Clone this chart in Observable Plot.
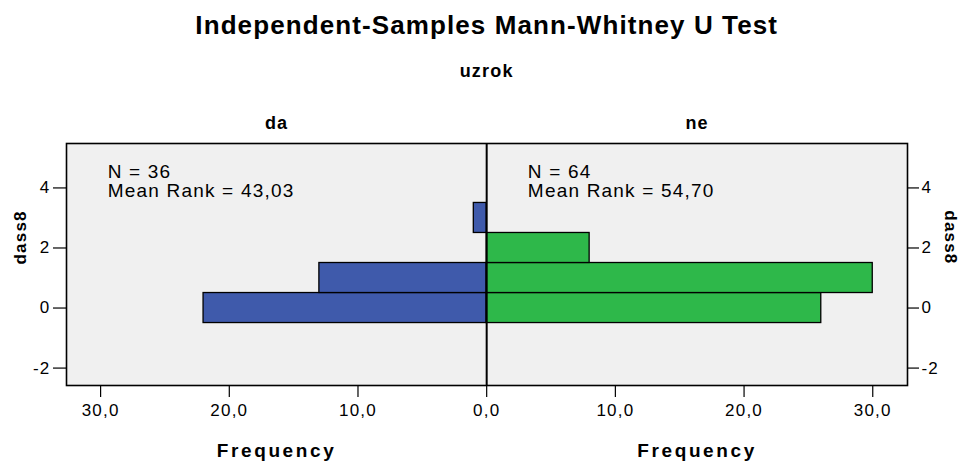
<!DOCTYPE html>
<html><head><meta charset="utf-8">
<script src="https://cdn.jsdelivr.net/npm/d3@7"></script>
<script src="https://cdn.jsdelivr.net/npm/@observablehq/plot@0.6"></script>
<style>
body{margin:0;background:#fff;}
#chart svg{display:block;background:#fff;}
#chart svg text{font-family:Arial,"Liberation Sans",sans-serif;letter-spacing:1.2px;}
</style></head><body><div id="chart"></div>
<script>
const title = "Independent-Samples Mann-Whitney U Test";
const groupVar = "uzrok";
const groups = ["da", "ne"];
const yLabel = "dass8";
const xLabel = "Frequency";
const daValues = [0, 1, 3];
const daCounts = [22, 13, 1];
const neValues = [0, 1, 2];
const neCounts = [26, 30, 8];
const daStats = ["N = 36", "Mean Rank = 43,03"];
const neStats = ["N = 64", "Mean Rank = 54,70"];
const yTicks = [-2, 0, 2, 4];
const xTicks = [-30, -20, -10, 0, 10, 20, 30];
const groupColors = ["#3f5aab", "#2eb84a"];

const xDomain = [-32.65, 32.7];
const yDomain = [-2.58, 5.48];

const bars = [
  ...daValues.map((v, i) => ({group: groups[0], value: v, count: -daCounts[i]})),
  ...neValues.map((v, i) => ({group: groups[1], value: v, count: neCounts[i]}))
];
const fmtX = d => Math.abs(d).toFixed(1).replace(".", ",");
const fmtY = d => String(d);

const plot = Plot.plot({
  width: 960,
  height: 463,
  marginLeft: 66,
  marginRight: 53,
  marginTop: 143,
  marginBottom: 78,
  x: {domain: xDomain},
  y: {domain: yDomain},
  color: {domain: groups, range: groupColors},
  style: {fontFamily: "Arial, 'Liberation Sans', sans-serif", background: "#fff"},
  marks: [
    Plot.frame({fill: "#f0f0f0"}),
    Plot.rect(bars, {
      x1: 0, x2: "count",
      y1: d => d.value - 0.5, y2: d => d.value + 0.5,
      fill: "group", stroke: "black", strokeWidth: 1.3
    }),
    Plot.ruleX([0], {stroke: "black", strokeWidth: 2}),
    Plot.frame({stroke: "black", strokeWidth: 1.6}),
    Plot.axisY(yTicks, {anchor: "left", tickSize: 13, tickPadding: 3, fontSize: 17, tickFormat: fmtY, label: null, stroke: "black", strokeWidth: 1.2}),
    Plot.axisY(yTicks, {anchor: "right", tickSize: 11, tickPadding: 3, fontSize: 17, tickFormat: fmtY, label: null, stroke: "black", strokeWidth: 1.2}),
    Plot.axisX(xTicks, {anchor: "bottom", tickSize: 12, tickPadding: 6, fontSize: 17, tickFormat: fmtX, label: null, stroke: "black", strokeWidth: 1.2}),
    // annotations
    Plot.text([daStats.join("\n")], {x: xDomain[0] + 3.2, frameAnchor: "top", dy: 21, lineAnchor: "top", textAnchor: "start", fontSize: 19, lineHeight: 19 / 19, fill: "black"}),
    Plot.text([neStats.join("\n")], {x: 3.2, frameAnchor: "top", dy: 21, lineAnchor: "top", textAnchor: "start", fontSize: 19, lineHeight: 19 / 19, fill: "black"}),
    // titles
    Plot.text([title], {x: 0, frameAnchor: "top", lineAnchor: "middle", dy: -118, fontSize: 26, fontWeight: "bold", fill: "black"}),
    Plot.text([groupVar], {x: 0, frameAnchor: "top", lineAnchor: "middle", dy: -72, fontSize: 18, fontWeight: "bold", fill: "black"}),
    Plot.text(groups, {x: [xDomain[0] / 2, xDomain[1] / 2], frameAnchor: "top", lineAnchor: "middle", dy: -20, fontSize: 18, fontWeight: "bold", fill: "black"}),
    Plot.text([xLabel, xLabel], {x: [xDomain[0] / 2, xDomain[1] / 2], frameAnchor: "bottom", lineAnchor: "middle", dy: 65, fontSize: 19, fontWeight: "bold", fill: "black"}),
    Plot.text([yLabel], {frameAnchor: "left", lineAnchor: "middle", dx: -46, rotate: -90, fontSize: 17, fontWeight: "bold", fill: "black"}),
    Plot.text([yLabel], {frameAnchor: "right", lineAnchor: "middle", dx: 43, rotate: 90, fontSize: 17, fontWeight: "bold", fill: "black"})
  ]
});

d3.select(plot).selectAll("text").each(function() {
  if (this.textContent === xLabel) this.style.letterSpacing = "2.6px";
  if (this.textContent === title) this.style.letterSpacing = "1.1px";
});
document.getElementById("chart").appendChild(plot);
</script>
</body></html>
